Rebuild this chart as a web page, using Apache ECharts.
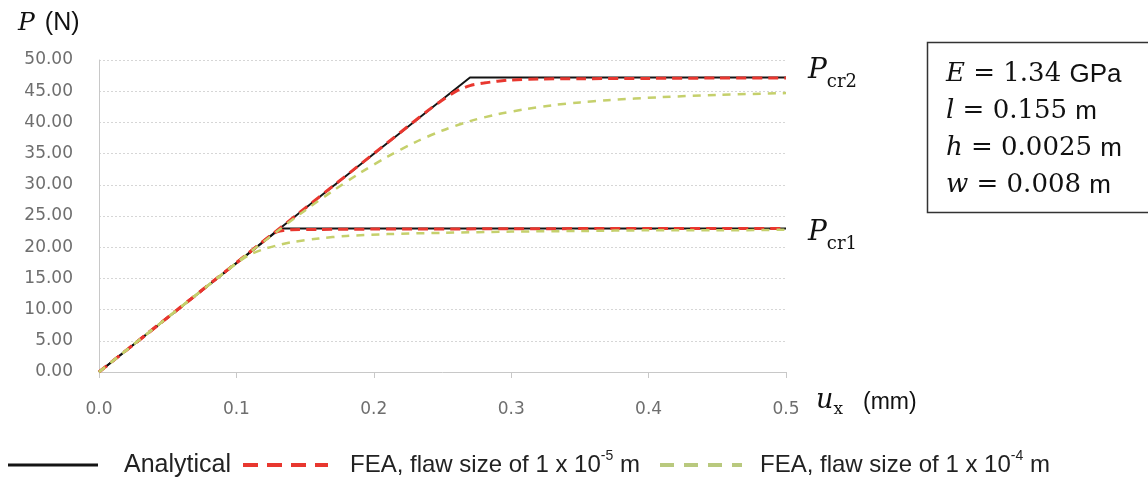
<!DOCTYPE html>
<html>
<head>
<meta charset="utf-8">
<script src="https://cdn.jsdelivr.net/npm/echarts@6/dist/echarts.min.js"></script>
<style>
html,body{margin:0;padding:0;background:#fff;}
#chart{width:1148px;height:481px;}
</style>
</head>
<body>
<div id="chart"></div>
<script>
// ---- data (displacement u_x in mm, load P in N) ----
const yTicks = [0, 5, 10, 15, 20, 25, 30, 35, 40, 45, 50];
const xTicks = [0, 0.1, 0.2, 0.3, 0.4, 0.5];

const analyticalUpperX = [0, 0.27, 0.5];
const analyticalUpperY = [0, 47.2, 47.2];
const analyticalLowerX = [0, 0.132, 0.5];
const analyticalLowerY = [0, 23.0, 23.0];

const fea5UpperX = [0, 0.1, 0.2, 0.24, 0.25, 0.26, 0.27, 0.28, 0.29, 0.30, 0.32, 0.35, 0.40, 0.45, 0.5];
const fea5UpperY = [0, 17.5, 35.0, 42.0, 43.6, 45.0, 45.9, 46.3, 46.6, 46.8, 46.95, 47.0, 47.05, 47.1, 47.1];
const fea5LowerX = [0, 0.1, 0.125, 0.13, 0.135, 0.14, 0.16, 0.2, 0.3, 0.4, 0.5];
const fea5LowerY = [0, 17.5, 21.9, 22.5, 22.7, 22.8, 22.85, 22.9, 22.95, 23.0, 23.0];

const fea4UpperX = [0, 0.1, 0.13, 0.15, 0.17, 0.19, 0.21, 0.23, 0.25, 0.27, 0.29, 0.31, 0.33, 0.35, 0.37, 0.41, 0.45, 0.5];
const fea4UpperY = [0, 17.5, 22.6, 25.9, 29.0, 31.9, 34.5, 36.8, 38.7, 40.2, 41.3, 42.1, 42.75, 43.2, 43.55, 44.05, 44.4, 44.7];
const fea4LowerX = [0, 0.1, 0.11, 0.12, 0.13, 0.14, 0.16, 0.18, 0.21, 0.25, 0.3, 0.35, 0.4, 0.45, 0.5];
const fea4LowerY = [0, 17.4, 18.8, 19.7, 20.3, 20.8, 21.4, 21.8, 22.1, 22.3, 22.5, 22.6, 22.7, 22.7, 22.8];

const seriesNames = ['Analytical', 'FEA, flaw size of 1 x 10-5 m', 'FEA, flaw size of 1 x 10-4 m'];

function zip(xs, ys) { return xs.map((x, i) => [x, ys[i]]); }

const BLACK = '#141414', RED = '#e8372f', GREEN = '#c5d06c';
const SERIF = 'DejaVu Serif';
const SANS = 'Liberation Sans';

const chart = echarts.init(document.getElementById('chart'), null, {renderer: 'canvas'});

function lineSeries(name, data, color, width, type, smooth, z) {
  return {
    name: name, type: 'line', data: data, showSymbol: false, symbol: 'none',
    smooth: smooth, z: z, animation: false,
    lineStyle: {color: color, width: width, type: type}
  };
}

const option = {
  backgroundColor: '#fff',
  animation: false,
  grid: {left: 99, right: 362, top: 60, bottom: 109},
  xAxis: {
    type: 'value', min: 0, max: 0.5, interval: 0.1,
    axisLine: {show: true, lineStyle: {color: '#c8c8c8', width: 1}},
    axisTick: {show: true, length: 6, lineStyle: {color: '#c8c8c8'}},
    splitLine: {show: false},
    axisLabel: {margin: 29, color: '#6e6e6e', fontFamily: 'DejaVu Sans', fontSize: 17,
      formatter: v => v.toFixed(1)}
  },
  yAxis: {
    type: 'value', min: 0, max: 50, interval: 5,
    axisLine: {show: true, lineStyle: {color: '#c8c8c8', width: 1}},
    axisTick: {show: false},
    splitLine: {show: true, lineStyle: {color: '#d6d6d6', width: 1, type: [2, 2]}},
    axisLabel: {margin: 26, color: '#6e6e6e', fontFamily: 'DejaVu Sans', fontSize: 17,
      formatter: v => v.toFixed(2)}
  },
  series: [
    lineSeries(seriesNames[0], zip(analyticalUpperX, analyticalUpperY), BLACK, 2, 'solid', false, 2),
    lineSeries(seriesNames[0], zip(analyticalLowerX, analyticalLowerY), BLACK, 2, 'solid', false, 2),
    lineSeries(seriesNames[1], zip(fea5UpperX, fea5UpperY), RED, 3, [10, 6], 0.3, 3),
    lineSeries(seriesNames[1], zip(fea5LowerX, fea5LowerY), RED, 3, [10, 6], 0.3, 3),
    lineSeries(seriesNames[2], zip(fea4UpperX, fea4UpperY), GREEN, 2.5, [8, 7], 0.3, 4),
    lineSeries(seriesNames[2], zip(fea4LowerX, fea4LowerY), GREEN, 2.5, [8, 7], 0.3, 4)
  ],
  graphic: [
    // axis titles
    {type: 'text', left: 18, top: 11, style: {
      text: '{i|P}{n|(N)}',
      rich: {
        i: {fontFamily: SERIF, fontStyle: 'italic', fontSize: 25, fill: '#111', verticalAlign: 'bottom'},
        n: {fontFamily: SANS, fontSize: 25, fill: '#111', verticalAlign: 'bottom', padding: [0, 0, 0, 10]}
      }}},
    {type: 'text', left: 816, top: 387, style: {
      text: '{i|u}{s|x}{n|(mm)}',
      rich: {
        i: {fontFamily: SERIF, fontStyle: 'italic', fontSize: 27, fill: '#111', verticalAlign: 'bottom', padding: [0, 0, 4, 0]},
        s: {fontFamily: SERIF, fontSize: 17, fill: '#111', verticalAlign: 'bottom'},
        n: {fontFamily: SANS, fontSize: 23, fill: '#111', verticalAlign: 'bottom', padding: [0, 0, 4, 20]}
      }}},
    // critical load labels
    {type: 'text', left: 808, top: 57, style: {
      text: '{p|P}{s|cr2}',
      rich: {
        p: {fontFamily: SERIF, fontStyle: 'italic', fontSize: 28, fill: '#111', verticalAlign: 'bottom', padding: [0, 0, 6, 0]},
        s: {fontFamily: SERIF, fontSize: 18, fill: '#111', verticalAlign: 'bottom'}
      }}},
    {type: 'text', left: 808, top: 219, style: {
      text: '{p|P}{s|cr1}',
      rich: {
        p: {fontFamily: SERIF, fontStyle: 'italic', fontSize: 28, fill: '#111', verticalAlign: 'bottom', padding: [0, 0, 6, 0]},
        s: {fontFamily: SERIF, fontSize: 18, fill: '#111', verticalAlign: 'bottom'}
      }}},
    // parameter box
    {type: 'rect', shape: {x: 927.5, y: 42.5, width: 240, height: 170},
      style: {fill: '#fff', stroke: '#333', lineWidth: 1.5}},
    {type: 'text', left: 946, top: 56, style: {
      text: '{i|E}{r| = 1.34 }{s|GPa}\n{i|l}{r| = 0.155 }{s|m}\n{i|h}{r| = 0.0025 }{s|m}\n{i|w}{r| = 0.008 }{s|m}',
      lineHeight: 37,
      rich: {
        i: {fontFamily: SERIF, fontStyle: 'italic', fontSize: 26, fill: '#111', lineHeight: 37},
        r: {fontFamily: SERIF, fontSize: 26, fill: '#111', lineHeight: 37},
        s: {fontFamily: SANS, fontSize: 26, fill: '#111', lineHeight: 37}
      }}},
    // legend
    {type: 'line', shape: {x1: 8, y1: 465, x2: 98, y2: 465}, style: {stroke: BLACK, lineWidth: 3}},
    {type: 'text', left: 124, top: 453, style: {text: seriesNames[0], fontFamily: SANS, fontSize: 25, fill: '#222'}},
    {type: 'line', shape: {x1: 243, y1: 465, x2: 328, y2: 465}, style: {stroke: RED, lineWidth: 4, lineDash: [15, 9]}},
    {type: 'text', left: 350, top: 449, style: {
      text: '{n|FEA, flaw size of 1 x 10}{u|-5}{n| m}',
      rich: {
        n: {fontFamily: SANS, fontSize: 24, fill: '#222', verticalAlign: 'bottom'},
        u: {fontFamily: SANS, fontSize: 14, fill: '#222', verticalAlign: 'bottom', padding: [0, 0, 14, 0]}
      }}},
    {type: 'line', shape: {x1: 660, y1: 465, x2: 742, y2: 465}, style: {stroke: '#b9c97e', lineWidth: 4, lineDash: [14, 10]}},
    {type: 'text', left: 760, top: 449, style: {
      text: '{n|FEA, flaw size of 1 x 10}{u|-4}{n| m}',
      rich: {
        n: {fontFamily: SANS, fontSize: 24, fill: '#222', verticalAlign: 'bottom'},
        u: {fontFamily: SANS, fontSize: 14, fill: '#222', verticalAlign: 'bottom', padding: [0, 0, 14, 0]}
      }}}
  ]
};
chart.setOption(option);
</script>
</body>
</html>
